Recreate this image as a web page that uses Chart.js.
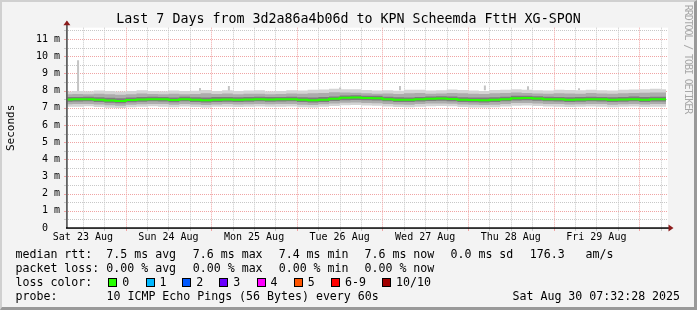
<!DOCTYPE html>
<html>
<head>
<meta charset="utf-8">
<script src="https://cdn.jsdelivr.net/npm/chart.js@4"></script>
<style>
  html, body { margin: 0; padding: 0; background: #f3f3f3; overflow: hidden; }
  #wrap { position: relative; width: 697px; height: 310px; background: #f3f3f3; }
  #c { position: absolute; left: 0; top: 0; }
  .t { position: absolute; font-family: 'DejaVu Sans Mono', monospace; font-size: 11.6px; line-height: 14px; white-space: pre; color: #000; }
  .sq { position: absolute; width: 7px; height: 7px; border: 1px solid #000; }
  #wm { position: absolute; left: 688px; top: 59px; transform: translate(-50%, -50%) rotate(90deg); font-family: 'DejaVu Sans Mono', monospace; font-size: 10px; letter-spacing: -1.1px; color: #a8a8a8; white-space: pre; }
  #frame { position: absolute; left: 0; top: 0; width: 697px; height: 310px; box-sizing: border-box; border-top: 2px solid #d0d0d0; border-left: 2px solid #d0d0d0; border-right: 3px solid #999; border-bottom: 3px solid #999; pointer-events: none; }
</style>
</head>
<body>
<div id="wrap">
  <canvas id="c" width="697" height="310"></canvas>
  <div id="legend"></div>
  <div id="wm">RRDTOOL / TOBI OETIKER</div>
  <div id="frame"></div>
</div>
<script>
// ---- data (hours since Sat 23 Aug 07:32:28, 3-hour samples) ----
const hours = [0,3,6,9,12,15,18,21,24,27,30,33,36,39,42,45,48,51,54,57,60,63,66,69,72,75,78,81,84,87,90,93,96,99,102,105,108,111,114,117,120,123,126,129,132,135,138,141,144,147,150,153,156,159,162,165,168];

const medianRtt = [
  7.48,7.49,7.50,7.47,7.42,7.39,7.45,7.48,7.50,7.49,
  7.45,7.50,7.46,7.44,7.47,7.48,7.47,7.48,7.50,7.48,
  7.49,7.50,7.46,7.44,7.47,7.52,7.58,7.59,7.57,7.55,
  7.50,7.47,7.46,7.49,7.52,7.53,7.51,7.47,7.45,7.44,
  7.46,7.50,7.55,7.56,7.53,7.50,7.49,7.47,7.48,7.50,
  7.49,7.46,7.48,7.50,7.47,7.49,7.49];

const smokeOuterHi = [
  7.95,7.97,7.96,8.00,7.98,7.95,7.97,8.02,7.98,7.96,
  8.00,7.97,7.99,8.03,7.98,8.02,7.97,8.00,8.01,7.96,
  7.98,8.02,8.00,8.04,8.06,8.10,8.08,8.07,8.03,8.00,
  8.02,7.99,8.04,8.05,8.00,8.02,8.06,8.03,8.00,7.98,
  8.03,8.05,8.08,8.04,8.02,8.00,8.04,8.03,8.01,8.05,
  8.02,8.00,8.04,8.06,8.08,8.10,8.08];
const smokeMidHi = [
  7.78,7.80,7.79,7.82,7.78,7.76,7.79,7.83,7.80,7.78,
  7.81,7.79,7.80,7.84,7.80,7.83,7.79,7.81,7.82,7.79,
  7.80,7.83,7.81,7.84,7.86,7.90,7.88,7.87,7.84,7.82,
  7.83,7.80,7.84,7.85,7.82,7.83,7.86,7.84,7.81,7.80,
  7.84,7.85,7.88,7.85,7.83,7.81,7.84,7.83,7.82,7.85,
  7.83,7.81,7.84,7.86,7.87,7.89,7.88];
const smokeInnerHi = [
  7.62,7.63,7.64,7.61,7.58,7.55,7.60,7.63,7.64,7.63,
  7.60,7.64,7.61,7.59,7.62,7.63,7.61,7.63,7.64,7.62,
  7.63,7.64,7.61,7.59,7.62,7.66,7.71,7.72,7.70,7.69,
  7.64,7.61,7.60,7.63,7.66,7.67,7.65,7.61,7.60,7.59,
  7.61,7.64,7.69,7.70,7.67,7.64,7.63,7.61,7.62,7.64,
  7.63,7.61,7.63,7.65,7.62,7.64,7.64];
const smokeInnerLo = [
  7.35,7.36,7.37,7.34,7.29,7.26,7.32,7.35,7.37,7.36,
  7.32,7.37,7.33,7.31,7.34,7.35,7.34,7.35,7.37,7.35,
  7.36,7.37,7.33,7.31,7.34,7.39,7.44,7.45,7.43,7.42,
  7.37,7.34,7.33,7.36,7.39,7.40,7.38,7.34,7.32,7.31,
  7.33,7.37,7.42,7.43,7.40,7.37,7.36,7.34,7.35,7.37,
  7.36,7.33,7.35,7.37,7.34,7.36,7.36];
const smokeMidLo = [
  7.20,7.21,7.22,7.19,7.15,7.12,7.17,7.20,7.22,7.21,
  7.18,7.22,7.19,7.16,7.19,7.21,7.19,7.20,7.22,7.20,
  7.21,7.22,7.18,7.16,7.20,7.24,7.29,7.30,7.28,7.26,
  7.22,7.19,7.18,7.21,7.24,7.25,7.23,7.19,7.17,7.16,
  7.18,7.22,7.27,7.28,7.25,7.22,7.21,7.19,7.20,7.22,
  7.21,7.18,7.20,7.22,7.19,7.21,7.21];
const smokeOuterLo = [
  7.06,7.05,7.08,7.04,7.00,6.98,7.03,7.06,7.08,7.05,
  7.03,7.07,7.04,7.01,7.05,7.06,7.04,7.05,7.07,7.05,
  7.06,7.07,7.03,7.01,7.05,7.10,7.15,7.16,7.13,7.11,
  7.07,7.04,7.03,7.06,7.09,7.10,7.08,7.04,7.02,7.01,
  7.03,7.07,7.12,7.13,7.10,7.07,7.06,7.04,7.05,7.07,
  7.06,7.03,7.05,7.07,7.04,7.06,7.06];

// isolated slow pings (spikes above the smoke)
const spikeHours = [3.1, 37.3, 45.4, 76.6, 93.4, 117.2, 129.3, 143.6];
const spikeLo    = [7.95, 7.98, 7.98, 8.02, 8.02, 8.02, 8.02, 8.02];
const spikeHi    = [9.77, 8.15, 8.27, 8.17, 8.26, 8.29, 8.25, 8.13];

// axis labels
const dayLabels   = ['Sat 23 Aug','Sun 24 Aug','Mon 25 Aug','Tue 26 Aug','Wed 27 Aug','Thu 28 Aug','Fri 29 Aug'];
const noonHours   = [4.46, 28.46, 52.46, 76.46, 100.46, 124.46, 148.46];
const midnightHours = [16.46, 40.46, 64.46, 88.46, 112.46, 136.46, 160.46];
const yTickValues = [0,0.5,1,1.5,2,2.5,3,3.5,4,4.5,5,5.5,6,6.5,7,7.5,8,8.5,9,9.5,10,10.5,11,11.5];

const lossLabels = ['0','1','2','3','4','5','6-9','10/10'];
const lossColors = ['#26ff00','#00b8ff','#0059ff','#6a00ff','#ff00ff','#ff5500','#ff0000','#a10000'];

const TITLE = 'Last 7 Days from 3d2a86a4b06d to KPN Scheemda FttH XG-SPON';

// ---- build chart ----
const MONO = "'DejaVu Sans Mono', monospace";
const MAJ = '#f0a4a4';
const MIN = '#c8c8c8';
const near = (a, b) => Math.abs(a - b) < 0.01;
const pts = arr => hours.map((h, i) => ({ x: h, y: arr[i] }));

const xTicks = [];
for (let h = noonHours[0]; h < 168; h += 6) xTicks.push(+h.toFixed(2));

const band = (arr, color, order, fillTarget) => ({
  data: pts(arr), borderWidth: 0, borderColor: 'rgba(0,0,0,0)', backgroundColor: color,
  pointRadius: 0, stepped: 'middle', order: order,
  fill: fillTarget === undefined ? false : { target: fillTarget }
});

const datasets = [
  band(smokeOuterLo, '#d4d4d4', 9),          // 0
  band(smokeOuterHi, '#d4d4d4', 9, 0),       // 1
  band(smokeMidLo,   '#acacac', 8),          // 2
  band(smokeMidHi,   '#acacac', 8, 2),       // 3
  band(smokeInnerLo, '#7c7c7c', 7),          // 4
  band(smokeInnerHi, '#7c7c7c', 7, 4),       // 5
  { data: pts(medianRtt), borderColor: lossColors[0], borderWidth: 2, pointRadius: 0, stepped: 'middle', fill: false, order: 1 }
];
spikeHours.forEach((h, i) => {
  datasets.push({ data: [{ x: h, y: spikeLo[i] }, { x: h, y: spikeHi[i] }], borderColor: '#c4c4c4', borderWidth: 2, pointRadius: 0, fill: false, order: 10 });
});

const framePlugin = {
  id: 'rrdframe',
  beforeDraw(chart) {
    const { ctx, chartArea: a } = chart;
    ctx.save();
    ctx.fillStyle = '#ffffff';
    ctx.fillRect(a.left, a.top, a.right - a.left + 2, a.bottom - a.top);
    ctx.restore();
  },
  beforeDatasetsDraw(chart) {
    // dotted rrdtool-style grid, positioned through the chart's own scales
    const { ctx, chartArea: a, scales: { x: xs, y: ys } } = chart;
    ctx.save();
    ctx.lineWidth = 1;
    const hLine = (v, col) => {
      const py = Math.round(ys.getPixelForValue(v)) + 0.5;
      ctx.strokeStyle = col;
      ctx.setLineDash([1, 1]);
      ctx.beginPath(); ctx.moveTo(a.left + 1, py); ctx.lineTo(a.right + 2, py); ctx.stroke();
      ctx.setLineDash([]);
      ctx.beginPath(); ctx.moveTo(a.left - 3, py); ctx.lineTo(a.left, py); ctx.stroke();
    };
    const vLine = (h, col) => {
      const px = Math.round(xs.getPixelForValue(h)) + 0.5;
      ctx.strokeStyle = col;
      ctx.setLineDash([1, 1]);
      ctx.beginPath(); ctx.moveTo(px, a.top); ctx.lineTo(px, a.bottom); ctx.stroke();
      ctx.setLineDash([]);
      ctx.beginPath(); ctx.moveTo(px, a.bottom); ctx.lineTo(px, a.bottom + 3); ctx.stroke();
    };
    yTickValues.forEach(v => { if (v > 0 && !Number.isInteger(v)) hLine(v, MIN); });
    xTicks.forEach(h => { if (!midnightHours.some(m => near(m, h))) vLine(h, MIN); });
    yTickValues.forEach(v => { if (v > 0 && Number.isInteger(v)) hLine(v, MAJ); });
    midnightHours.forEach(h => vLine(h, MAJ));
    ctx.restore();
  },
  afterDraw(chart) {
    const { ctx, chartArea: a } = chart;
    ctx.save();
    ctx.setLineDash([]);
    ctx.fillStyle = '#606060';
    ctx.fillRect(a.left - 1, a.top - 6, 1.8, a.bottom - a.top + 6);
    ctx.fillStyle = '#000';
    ctx.fillRect(a.left - 1, a.bottom - 0.7, a.right - a.left + 4, 1.5);
    ctx.fillStyle = '#8c1c1c';
    ctx.beginPath();
    ctx.moveTo(a.left - 3.6, a.top - 2.5);
    ctx.lineTo(a.left + 3.4, a.top - 2.5);
    ctx.lineTo(a.left - 0.1, a.top - 7.2);
    ctx.closePath(); ctx.fill();
    ctx.beginPath();
    ctx.moveTo(a.right + 2.5, a.bottom - 3.5);
    ctx.lineTo(a.right + 2.5, a.bottom + 3.5);
    ctx.lineTo(a.right + 7.5, a.bottom);
    ctx.closePath(); ctx.fill();
    ctx.restore();
  }
};

Chart.defaults.font.family = MONO;
new Chart(document.getElementById('c'), {
  type: 'line',
  data: { datasets },
  options: {
    responsive: false, animation: false, devicePixelRatio: 1,
    layout: { padding: 0 },
    plugins: {
      legend: { display: false }, tooltip: { enabled: false },
      title: { display: true, text: TITLE, color: '#000',
        font: { family: MONO, size: 13.3, weight: 'normal' }, padding: { top: 11.3, bottom: 0.4 } }
    },
    scales: {
      x: {
        type: 'linear', min: 0, max: 168, offset: false,
        afterFit: s => { s.height = 82; },
        afterBuildTicks: s => { s.ticks = xTicks.map(v => ({ value: v })); },
        ticks: { autoSkip: false, maxRotation: 0, padding: 3, color: '#000',
          font: { family: MONO, size: 10 },
          callback: v => { const k = noonHours.findIndex(h => near(h, v)); return k >= 0 ? dayLabels[k] : ''; } },
        grid: { display: false, drawTicks: false, tickLength: 0 },
        border: { display: false }
      },
      y: {
        min: 0, max: 11.66,
        afterFit: s => { s.width = 67; },
        afterBuildTicks: s => { s.ticks = yTickValues.map(v => ({ value: v })); },
        ticks: { autoSkip: false, padding: 7, color: '#000', font: { family: MONO, size: 10 },
          callback: v => Number.isInteger(v) ? (v === 0 ? '0  ' : v + ' m') : '' },
        grid: { display: false, drawTicks: false, tickLength: 0 },
        border: { display: false },
        title: { display: true, text: 'Seconds', color: '#000', font: { family: MONO, size: 11 }, padding: { top: 4.2, bottom: 0 } }
      },
      r: {
        position: 'right', display: true,
        afterFit: s => { s.width = 31; },
        grid: { display: false, drawTicks: false }, ticks: { display: false }, border: { display: false }
      }
    }
  },
  plugins: [framePlugin]
});

// ---- legend (real text) ----
const legend = document.getElementById('legend');
function txt(x, y, s) { const d = document.createElement('div'); d.className = 't'; d.style.left = x + 'px'; d.style.top = y + 'px'; d.textContent = s; legend.appendChild(d); }
const r1 = 247.3, r2 = 261, r3 = 275.3, r4 = 289;
txt(15.5, r1, 'median rtt:');
txt(106.3, r1, '7.5 ms avg'); txt(192.8, r1, '7.6 ms max'); txt(278.7, r1, '7.4 ms min');
txt(364.5, r1, '7.6 ms now'); txt(450.5, r1, '0.0 ms sd'); txt(529.8, r1, '176.3'); txt(585.5, r1, 'am/s');
txt(15.5, r2, 'packet loss:');
txt(106.3, r2, '0.00 % avg'); txt(192.8, r2, '0.00 % max'); txt(278.7, r2, '0.00 % min'); txt(364.5, r2, '0.00 % now');
txt(15.5, r3, 'loss color:');
const boxX = [108.3, 145.5, 182.3, 219.3, 256.5, 293.8, 331, 382];
lossLabels.forEach((l, i) => {
  const b = document.createElement('div'); b.className = 'sq';
  b.style.left = boxX[i] + 'px'; b.style.top = '277.7px'; b.style.background = lossColors[i];
  legend.appendChild(b);
  txt(boxX[i] + 14, r3, l);
});
txt(15.5, r4, 'probe:');
txt(106.5, r4, '10 ICMP Echo Pings (56 Bytes) every 60s');
txt(512.5, r4, 'Sat Aug 30 07:32:28 2025');
</script>
</body>
</html>
